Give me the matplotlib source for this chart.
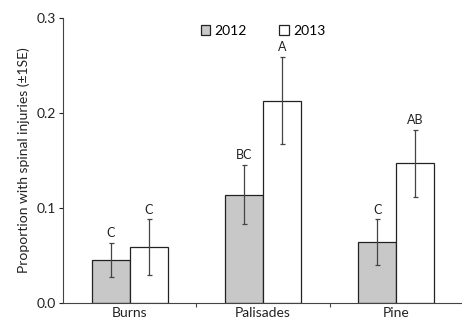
import numpy as np
import matplotlib.pyplot as plt

plt.rcParams['font.family'] = ['Lato', 'DejaVu Sans']

sites = ['Burns', 'Palisades', 'Pine']
years = ['2012', '2013']
mean_2012 = [0.045, 0.114, 0.064]
mean_2013 = [0.059, 0.213, 0.147]
se_2012 = [0.018, 0.031, 0.024]
se_2013 = [0.029, 0.046, 0.035]
letters_2012 = ['C', 'BC', 'C']
letters_2013 = ['C', 'A', 'AB']

fig = plt.figure(figsize=(4.62, 3.21), dpi=100)
ax = fig.add_axes([0.136, 0.056, 0.866, 0.888])

x = np.arange(len(sites))
w = 0.285
err_kw = dict(ecolor='#444444', elinewidth=0.9, capsize=1.8, capthick=0.9)
ax.bar(x - w / 2, mean_2012, w, yerr=se_2012, color='#c8c8c8',
       edgecolor='#222222', linewidth=0.9, label=years[0], error_kw=err_kw)
ax.bar(x + w / 2, mean_2013, w, yerr=se_2013, color='white',
       edgecolor='#222222', linewidth=0.9, label=years[1], error_kw=err_kw)

for i in range(len(sites)):
    ax.text(x[i] - w / 2, mean_2012[i] + se_2012[i] + 0.004, letters_2012[i],
            ha='center', va='bottom', fontsize=9, color='#222222')
    ax.text(x[i] + w / 2, mean_2013[i] + se_2013[i] + 0.004, letters_2013[i],
            ha='center', va='bottom', fontsize=9, color='#222222')

ax.set_xlim(-0.5, 2.5)
ax.set_ylim(0, 0.3)
ax.set_yticks([0.0, 0.1, 0.2, 0.3])
ax.set_yticklabels(['0.0', '0.1', '0.2', '0.3'])
ax.set_xticks(x)
ax.set_xticklabels(sites)
ax.set_xticks([0.5, 1.5], minor=True)
ax.tick_params(axis='x', which='major', length=0, pad=3, labelsize=10, colors='#222222')
ax.tick_params(axis='x', which='minor', length=3, width=0.8, direction='out', color='#444444')
ax.tick_params(axis='y', length=3, width=0.8, pad=2, labelsize=10, colors='#222222')
ax.set_ylabel('Proportion with spinal injuries (\u00b11SE)', fontsize=10, color='#222222',
              labelpad=5)
for s in ['top', 'right']:
    ax.spines[s].set_visible(False)
for s in ['left', 'bottom']:
    ax.spines[s].set_color('#444444')
    ax.spines[s].set_linewidth(0.8)

ax.legend(loc='upper center', bbox_to_anchor=(0.5, 1.0), ncol=2, frameon=False,
          fontsize=10, handlelength=0.7, handleheight=0.7, handletextpad=0.3,
          columnspacing=2.3, borderaxespad=0.1)

fig.savefig('out.png', dpi=100)
